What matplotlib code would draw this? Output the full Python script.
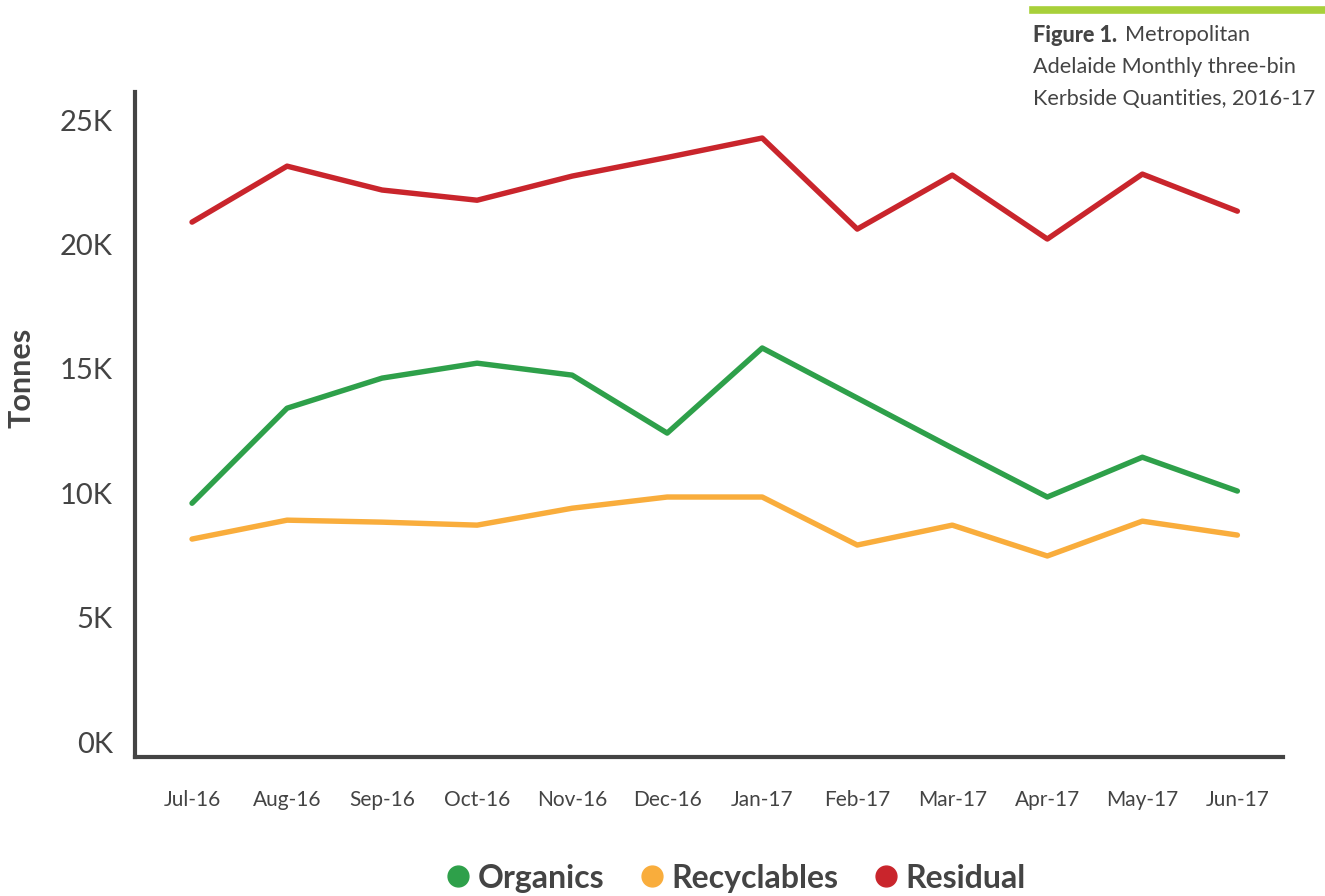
import matplotlib.pyplot as plt
from matplotlib.lines import Line2D

months = ['Jul-16', 'Aug-16', 'Sep-16', 'Oct-16', 'Nov-16', 'Dec-16',
          'Jan-17', 'Feb-17', 'Mar-17', 'Apr-17', 'May-17', 'Jun-17']

# monthly tonnes (thousands)
organics = [9.6, 13.42, 14.63, 15.23, 14.75, 12.42, 15.84, 13.83, 11.82, 9.85, 11.45, 10.09]
recyclables = [8.16, 8.92, 8.84, 8.72, 9.40, 9.85, 9.85, 7.92, 8.72, 7.48, 8.88, 8.32]
residual = [20.9, 23.15, 22.19, 21.78, 22.75, 23.5, 24.28, 20.62, 22.79, 20.22, 22.83, 21.34]

series_names = ['Organics', 'Recyclables', 'Residual']
colors = ['#2ea04a', '#f9ad3c', '#c9252c']
yticks = [0, 5, 10, 15, 20, 25]

plt.rcParams['font.family'] = ['Lato', 'DejaVu Sans']
dark = '#444444'

fig = plt.figure(figsize=(13.25, 8.96), dpi=100)
ax = fig.add_axes([135 / 1325, 1 - 757 / 896, (1283 - 135) / 1325, (757 - 92) / 896])

x = range(len(months))
for vals, c in zip([organics, recyclables, residual], colors):
    ax.plot(x, vals, color=c, linewidth=3.9, solid_capstyle='round', solid_joinstyle='round')

ax.set_xlim(-0.6, 11.48)
ax.set_ylim(-0.6, 26.13)
ax.set_xticks(list(x))
ax.set_xticklabels(months, fontsize=15, color=dark)
ax.set_yticks(yticks)
ax.set_yticklabels([f'{v}K' for v in yticks], fontsize=21, color=dark)
ax.tick_params(length=0)
ax.tick_params(axis='x', pad=24)
ax.tick_params(axis='y', pad=16)

for s in ['top', 'right']:
    ax.spines[s].set_visible(False)
for s in ['left', 'bottom']:
    ax.spines[s].set_color(dark)
    ax.spines[s].set_linewidth(3)

fig.text(22 / 1325, 1 - 378 / 896, 'Tonnes', rotation=90, fontsize=22, fontweight='bold',
         color=dark, ha='center', va='center')

# legend
handles = [Line2D([], [], marker='o', linestyle='none', markersize=15, color=c) for c in colors]
leg = fig.legend(handles, series_names, loc='center', bbox_to_anchor=(726 / 1325, 1 - 878 / 896),
                 ncol=3, frameon=False, handletextpad=-0.4, columnspacing=0.5,
                 prop={'size': 23, 'weight': 'bold'})
for t in leg.get_texts():
    t.set_color(dark)

# caption block with accent bar
fig.add_artist(Line2D([1033 / 1325, 1.0], [1 - 10 / 896, 1 - 10 / 896],
                      color='#a8d03a', linewidth=5.5, transform=fig.transFigure))
cap_size = 15.6
cap = fig.text(1033 / 1325, 1 - 35 / 896, 'Figure 1.', fontsize=cap_size, fontweight='black',
               color=dark, va='center')
fig.add_artist(plt.Annotation('Metropolitan', xy=(1, 0.5), xycoords=cap, xytext=(6, 0),
                              textcoords='offset points', fontsize=cap_size, color=dark,
                              va='center'))
fig.text(1033 / 1325, 1 - 67 / 896, 'Adelaide Monthly three-bin', fontsize=cap_size,
         color=dark, va='center')
fig.text(1033 / 1325, 1 - 99 / 896, 'Kerbside Quantities, 2016-17', fontsize=cap_size,
         color=dark, va='center')

fig.savefig('out.png', dpi=100)
